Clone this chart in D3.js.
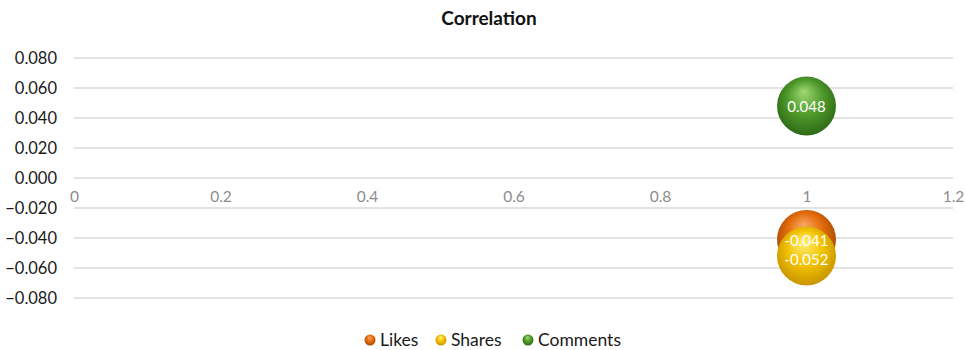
<!DOCTYPE html>
<html>
<head>
<meta charset="utf-8">
<script src="https://cdn.jsdelivr.net/npm/d3@7"></script>
<style>
  html, body { margin: 0; padding: 0; background: #fff; }
  svg { display: block; font-family: Lato, "Open Sans", sans-serif; }
</style>
</head>
<body>
<svg id="chart" width="965" height="350"></svg>
<script>
// Correlation values per engagement metric
const seriesNames = ["Likes", "Shares", "Comments"];
const xValues = [1, 1, 1];
const yValues = [-0.041, -0.052, 0.048];
const bubbleSizes = [1, 1, 1];
const labels = ["-0.041", "-0.052", "0.048"];

const yTicks = [0.08, 0.06, 0.04, 0.02, 0, -0.02, -0.04, -0.06, -0.08];
const xTicks = [0, 0.2, 0.4, 0.6, 0.8, 1, 1.2];

const palette = {
  Likes:    { hi: "#f7a766", mid: "#e46c0a", lo: "#a84a05" },
  Shares:   { hi: "#fff07a", mid: "#f2c200", lo: "#c99400" },
  Comments: { hi: "#9fd873", mid: "#4f9a2b", lo: "#2f6a16" }
};

const svg = d3.select("#chart");
const margin = { left: 74, right: 12, top: 58, bottom: 52 };
const W = 965, H = 350;

const x = d3.scaleLinear().domain([0, 1.2]).range([margin.left, W - margin.right]);
const y = d3.scaleLinear().domain([-0.08, 0.08]).range([H - margin.bottom, margin.top]);
const r = d3.scaleSqrt().domain([0, 1]).range([0, 29.5]);

// 3-D style gradients for bubbles
const defs = svg.append("defs");
seriesNames.forEach(name => {
  const c = palette[name];
  const g = defs.append("radialGradient")
    .attr("id", "grad-" + name)
    .attr("cx", "50%").attr("cy", "45%").attr("r", "55%")
    .attr("fx", "45%").attr("fy", "25%");
  g.append("stop").attr("offset", "0%").attr("stop-color", c.hi);
  g.append("stop").attr("offset", "55%").attr("stop-color", c.mid);
  g.append("stop").attr("offset", "100%").attr("stop-color", c.lo);
});

// Title
svg.append("text")
  .attr("x", 489).attr("y", 25)
  .attr("text-anchor", "middle")
  .attr("font-size", 19).attr("font-weight", "bold").attr("fill", "#111")
  .text("Correlation");

// Horizontal gridlines
svg.append("g").selectAll("line").data(yTicks).join("line")
  .attr("x1", x(0)).attr("x2", x(1.2))
  .attr("y1", d => y(d)).attr("y2", d => y(d))
  .attr("stroke", "#d9d9d9").attr("stroke-width", 1.3);

// Y axis labels
const yAxis = d3.axisLeft(y).tickValues(yTicks).tickFormat(d3.format(".3f")).tickSize(0).tickPadding(0);
const yg = svg.append("g").attr("transform", `translate(${margin.left - 17},0)`).call(yAxis);
yg.select(".domain").remove();
yg.selectAll("text").attr("font-size", 16.5).attr("fill", "#1a1a1a").attr("font-family", "Lato, sans-serif");

// X axis labels sit on the -0.02 line
const xAxis = d3.axisBottom(x).tickValues(xTicks).tickFormat(d => String(d)).tickSize(0).tickPadding(0);
const xg = svg.append("g").attr("transform", `translate(0,${y(-0.02) - 17})`).call(xAxis);
xg.select(".domain").remove();
xg.selectAll("text").attr("font-size", 15.5).attr("fill", "#8c8c8c").attr("font-family", "Lato, sans-serif");

// Bubbles
const data = seriesNames.map((n, i) => ({ name: n, x: xValues[i], y: yValues[i], s: bubbleSizes[i], label: labels[i] }));
const order = ["Comments", "Likes", "Shares"];
const sorted = order.map(n => data.find(d => d.name === n));
const labelShift = { Comments: 1, Likes: 1.5, Shares: 3.5 };

svg.append("g").selectAll("circle").data(sorted).join("circle")
  .attr("cx", d => x(d.x)).attr("cy", d => y(d.y))
  .attr("r", d => r(d.s))
  .attr("fill", d => `url(#grad-${d.name})`);

svg.append("g").selectAll("text").data(sorted).join("text")
  .attr("x", d => x(d.x)).attr("y", d => y(d.y) + labelShift[d.name])
  .attr("dy", "0.35em")
  .attr("text-anchor", "middle")
  .attr("font-size", 15).attr("fill", "#fff")
  .text(d => d.label);

// Legend
const legend = svg.append("g").attr("transform", "translate(0,340)");
const itemX = [370, 441, 528];
seriesNames.forEach((n, i) => {
  const it = legend.append("g").attr("transform", `translate(${itemX[i]},0)`);
  it.append("circle").attr("r", 5.5).attr("fill", `url(#grad-${n})`);
  it.append("text").attr("x", 10).attr("dy", "0.35em")
    .attr("font-size", 17.5).attr("fill", "#1a1a1a").text(n);
});
</script>
</body>
</html>
